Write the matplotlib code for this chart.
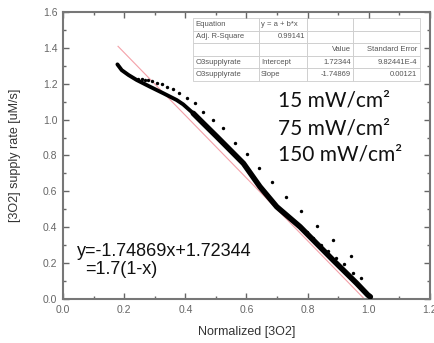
import matplotlib
matplotlib.use("Agg")
import matplotlib.pyplot as plt
import numpy as np

# dense measured curve (drawn as thick black trace)
curve_x = [0.178, 0.192, 0.214, 0.241, 0.285, 0.328, 0.372, 0.393, 0.426, 0.459,
           0.503, 0.541, 0.590, 0.644, 0.699, 0.775, 0.883, 0.960, 0.997, 1.005]
curve_y = [1.308, 1.276, 1.249, 1.221, 1.183, 1.147, 1.109, 1.085, 1.035, 0.979,
           0.905, 0.840, 0.756, 0.626, 0.514, 0.403, 0.217, 0.088, 0.022, 0.012]

# sparse series (upper dots)
dots_x = [0.246, 0.257, 0.268, 0.279, 0.290, 0.306, 0.323, 0.339, 0.359, 0.380,
          0.406, 0.432, 0.459, 0.491, 0.524, 0.562, 0.601, 0.642, 0.684, 0.729,
          0.777, 0.830, 0.884, 0.941, 0.975]
dots_y = [1.226, 1.225, 1.222, 1.219, 1.215, 1.206, 1.197, 1.183, 1.169, 1.147,
          1.122, 1.091, 1.044, 0.998, 0.951, 0.871, 0.807, 0.732, 0.654, 0.570,
          0.492, 0.407, 0.329, 0.240, 0.115]

# sparse series (near the curve)
dots2_x = [0.769, 0.797, 0.819, 0.843, 0.868, 0.893, 0.919, 0.947]
dots2_y = [0.407, 0.375, 0.338, 0.301, 0.268, 0.230, 0.193, 0.143]

intercept = 1.72344
slope = -1.74869
fit_x = [0.18, 0.99]

table_rows = [
    ["Equation", "y = a + b*x", "", ""],
    ["Adj. R-Square", "0.99141", "", ""],
    ["", "", "Value", "Standard Error"],
    ["O3supplyrate", "Intercept", "1.72344", "9.82441E-4"],
    ["O3supplyrate", "Slope", "-1.74869", "0.00121"],
]
powers = ["15 mW/cm\u00b2", "75 mW/cm\u00b2", "150 mW/cm\u00b2"]
power_y = [1.109, 0.953, 0.803]

plt.rcParams['font.family'] = ['Liberation Sans', 'DejaVu Sans']

fig = plt.figure(figsize=(4.35, 3.43), dpi=100)
ax = fig.add_axes([0.1448, 0.1283, 0.8437, 0.8367])

fx = np.array(fit_x)
ax.plot(fx, intercept + slope * fx, color='#f4a0a8', lw=0.8, zorder=2)
# thinner at the start of the trace, heavier further down
ax.plot(curve_x[:9], curve_y[:9], color='black', lw=2.8, solid_capstyle='round',
        solid_joinstyle='round', zorder=3)
ax.plot(curve_x[8:], curve_y[8:], color='black', lw=4, solid_capstyle='round',
        solid_joinstyle='round', zorder=3)
ax.scatter(dots_x, dots_y, s=6, color='black', zorder=4, linewidths=0)
ax.scatter(dots2_x, dots2_y, s=6, color='black', zorder=4, linewidths=0)

ax.set_xlim(0, 1.2)
ax.set_ylim(0, 1.6)
ax.set_xticks(np.arange(0, 1.21, 0.2))
ax.set_yticks(np.arange(0, 1.61, 0.2))
ax.set_xticks(np.arange(0.1, 1.2, 0.2), minor=True)
ax.set_yticks(np.arange(0.1, 1.6, 0.2), minor=True)
ax.set_xticklabels([f"{v:.1f}" for v in np.arange(0, 1.21, 0.2)])
ax.set_yticklabels([f"{v:.1f}" for v in np.arange(0, 1.61, 0.2)])
ax.tick_params(which='both', direction='in', top=True, right=True,
               color='#666666', labelcolor='#666666', labelsize=7.5, width=1)
ax.tick_params(which='major', length=4, pad=4)
ax.tick_params(which='minor', length=2)
for s in ax.spines.values():
    s.set_color('#777777')
    s.set_linewidth(1.5)

ax.set_xlabel("Normalized [3O2]", fontsize=9, color='#333333')
ax.set_ylabel("[3O2] supply rate [uM/s]", fontsize=9, color='#333333')
ax.xaxis.set_label_coords(0.5, -0.095)
ax.yaxis.set_label_coords(-0.115, 0.5)

ax.text(0.046, 0.262, "y=-1.74869x+1.72344", fontsize=13, va='center', color='#111111')
ax.text(0.072, 0.162, "=1.7(1-x)", fontsize=13, va='center', color='#111111')

for label, yv in zip(powers, power_y):
    ax.text(0.703, yv, label, fontsize=15, va='center', family=['Lato', 'DejaVu Sans'],
            color='#111111')

col_w = [66, 48, 46, 67]
tot = sum(col_w)
tbl = ax.table(cellText=table_rows, colWidths=[w / tot for w in col_w],
               bbox=[0.354, 0.760, 0.619, 0.219], cellLoc='left')
tbl.auto_set_font_size(False)
tbl.set_fontsize(5.5)
for (r, c), cell in tbl.get_celld().items():
    cell.set_edgecolor('#cccccc')
    cell.set_linewidth(0.6)
    cell.get_text().set_color('#555555')
    if c >= 2 or (c == 1 and r == 1):
        cell.get_text().set_ha('right')
        cell._loc = 'right'
    cell.PAD = 0.04

fig.savefig("out.png", dpi=100)
